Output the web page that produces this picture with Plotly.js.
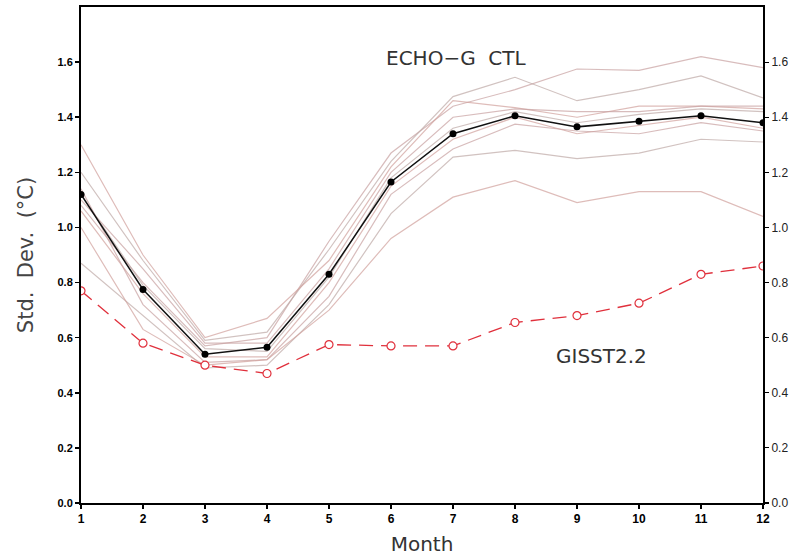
<!DOCTYPE html>
<html>
<head>
<meta charset="utf-8">
<script src="https://cdn.plot.ly/plotly-3.0.1.min.js"></script>
<style>html,body{margin:0;padding:0;background:#fff;}#chart{width:795px;height:560px;}</style>
</head>
<body>
<div id="chart"></div>
<script>
const months = [1,2,3,4,5,6,7,8,9,10,11,12];
const yTicks = [0,0.2,0.4,0.6,0.8,1.0,1.2,1.4,1.6];
const yTickText = ["0.0","0.2","0.4","0.6","0.8","1.0","1.2","1.4","1.6"];

const memberA = [1.08,0.80,0.57,0.60,0.95,1.27,1.44,1.50,1.575,1.57,1.62,1.58];
const memberB = [1.20,0.88,0.59,0.62,0.92,1.24,1.475,1.545,1.46,1.50,1.55,1.47];
const memberC = [1.30,0.90,0.60,0.67,0.88,1.22,1.46,1.435,1.40,1.44,1.44,1.43];
const memberD = [1.10,0.85,0.58,0.58,0.85,1.20,1.40,1.43,1.42,1.42,1.44,1.44];
const memberE = [1.12,0.79,0.56,0.55,0.82,1.18,1.36,1.42,1.38,1.41,1.43,1.42];
const memberF = [1.06,0.76,0.53,0.53,0.80,1.15,1.32,1.40,1.34,1.37,1.40,1.36];
const memberG = [1.14,0.72,0.51,0.52,0.75,1.12,1.285,1.375,1.35,1.34,1.38,1.35];
const memberH = [0.87,0.68,0.49,0.50,0.72,1.05,1.255,1.28,1.25,1.27,1.32,1.31];
const memberI = [1.00,0.63,0.50,0.52,0.70,0.96,1.11,1.17,1.09,1.13,1.13,1.04];
const ensembleMean = [1.12,0.775,0.54,0.565,0.83,1.165,1.34,1.405,1.365,1.385,1.405,1.38];
const gisst = [0.77,0.58,0.50,0.47,0.575,0.57,0.57,0.655,0.68,0.725,0.83,0.86];

const members = [memberA,memberB,memberC,memberD,memberE,memberF,memberG,memberH,memberI];
const memberColors = ["rgba(200,160,160,0.7)","rgba(190,168,165,0.7)","rgba(208,160,155,0.7)"];

const traces = members.map((m,i) => ({
  x: months, y: m, type: 'scatter', mode: 'lines',
  line: {color: memberColors[i%3], width: 1.2}, hoverinfo: 'skip', showlegend: false
}));
traces.push({
  x: months, y: gisst, type: 'scatter', mode: 'lines+markers',
  line: {color: '#e0303c', width: 1.3, dash: '14px,8px'},
  marker: {symbol: 'circle', size: 8, color: '#ffffff', line: {width: 1.2, color: '#e0303c'}},
  showlegend: false
});
traces.push({
  x: months, y: ensembleMean, type: 'scatter', mode: 'lines+markers',
  line: {color: '#111', width: 1.5},
  marker: {symbol: 'circle', size: 7, color: '#000'},
  showlegend: false
});
traces.push({x: months, y: ensembleMean, yaxis: 'y2', type: 'scatter', mode: 'none', hoverinfo: 'skip', showlegend: false});

const layout = {
  width: 795, height: 560,
  margin: {l: 81, r: 32, t: 7, b: 57},
  paper_bgcolor: '#fff', plot_bgcolor: '#fff',
  showlegend: false,
  xaxis: {
    range: [1, 12], tickvals: months, ticktext: months.map(String),
    showgrid: false, zeroline: false, showline: true, linecolor: '#000', linewidth: 2,
    mirror: true, ticks: 'outside', ticklen: 4, tickwidth: 1.5, tickcolor: '#000',
    tickfont: {family: 'Liberation Sans', size: 12, color: '#000', weight: 'bold'},
    title: {text: 'Month', font: {family: 'DejaVu Sans', size: 20, color: '#333'}, standoff: 12}
  },
  yaxis: {
    range: [0, 1.8], tickvals: yTicks, ticktext: yTickText,
    showgrid: false, zeroline: false, showline: true, linecolor: '#000', linewidth: 2,
    ticks: 'outside', ticklen: 4, tickwidth: 1.5, tickcolor: '#000',
    tickfont: {family: 'Liberation Sans', size: 11, color: '#000', weight: 'bold'},
    title: {text: 'Std.  Dev.  (°C)', font: {family: 'DejaVu Sans', size: 21, color: '#444'}, standoff: 18}
  },
  yaxis2: {
    range: [0, 1.8], tickvals: yTicks, ticktext: yTickText,
    overlaying: 'y', side: 'right', anchor: 'x',
    showgrid: false, zeroline: false, showline: true, linecolor: '#000', linewidth: 2,
    ticks: 'outside', ticklen: 4, tickwidth: 1.2, tickcolor: '#000',
    tickfont: {family: 'Liberation Sans', size: 12, color: '#222'}
  },
  annotations: [
    {x: 7.05, y: 1.615, xref: 'x', yref: 'y', text: 'ECHO\u2212G  CTL', showarrow: false,
     font: {family: 'DejaVu Sans', size: 20, color: '#333'}},
    {x: 9.4, y: 0.535, xref: 'x', yref: 'y', text: 'GISST2.2', showarrow: false,
     font: {family: 'DejaVu Sans', size: 20, color: '#333'}}
  ]
};

Plotly.newPlot('chart', traces, layout, {displayModeBar: false, staticPlot: true});
</script>
</body>
</html>
